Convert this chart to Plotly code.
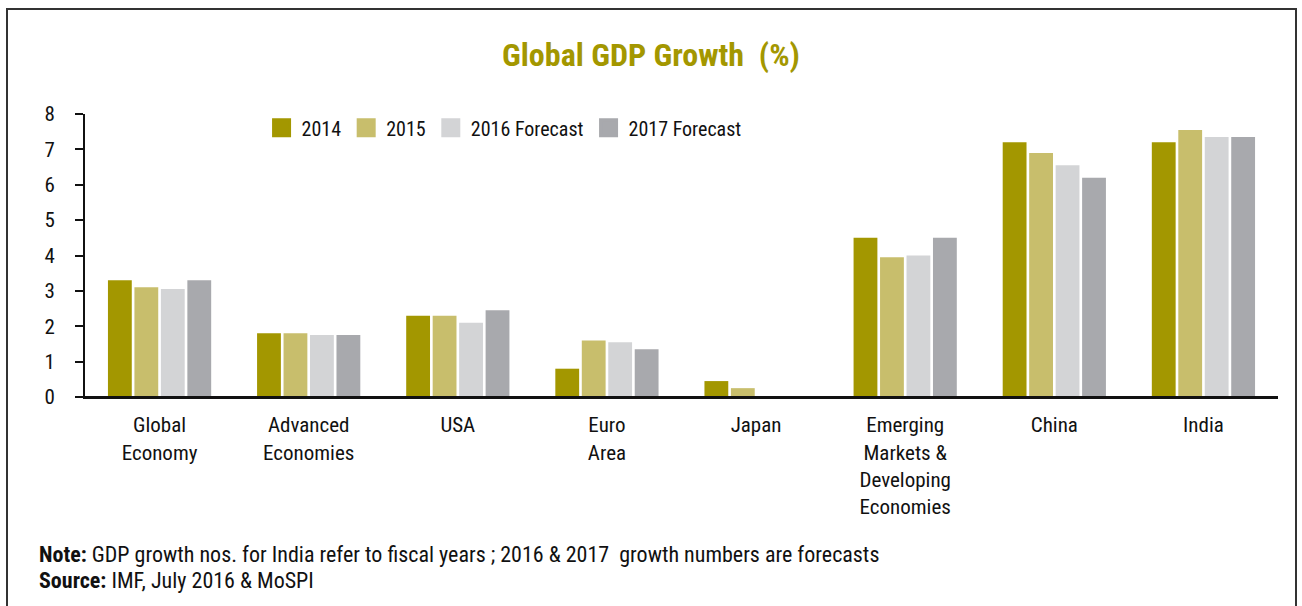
import plotly.graph_objects as go

# values
CATEGORIES = [
    "Global<br>Economy",
    "Advanced<br>Economies",
    "USA",
    "Euro<br>Area",
    "Japan",
    "Emerging<br>Markets &<br>Developing<br>Economies",
    "China",
    "India",
]
GDP_2014 = [3.3, 1.8, 2.3, 0.8, 0.45, 4.5, 7.2, 7.2]
GDP_2015 = [3.1, 1.8, 2.3, 1.6, 0.25, 3.95, 6.9, 7.55]
GDP_2016F = [3.05, 1.75, 2.1, 1.55, 0, 4.0, 6.55, 7.35]
GDP_2017F = [3.3, 1.75, 2.45, 1.35, 0, 4.5, 6.2, 7.35]
SERIES_NAMES = ["2014", "2015", "2016 Forecast", "2017 Forecast"]
Y_TICKS = [0, 1, 2, 3, 4, 5, 6, 7, 8]

COLORS = ["#A39700", "#C8BE6C", "#D3D4D6", "#A8A9AD"]
TITLE_COLOR = "#A39700"
TEXT = "#111111"
FONT = "Liberation Sans Narrow, Roboto Condensed, Arial Narrow, Roboto, sans-serif"

fig = go.Figure()

for name, values, color in zip(SERIES_NAMES, [GDP_2014, GDP_2015, GDP_2016F, GDP_2017F], COLORS):
    fig.add_trace(
        go.Bar(
            x=CATEGORIES,
            y=values,
            name=name,
            marker=dict(color=color, line_width=0),
            showlegend=False,
        )
    )

# bigger square legend swatches than plotly's bar symbol
for name, color in zip(SERIES_NAMES, COLORS):
    fig.add_trace(
        go.Scatter(
            x=[None],
            y=[None],
            mode="markers",
            name=name,
            marker=dict(symbol="square", size=16, color=color, line=dict(color=color, width=3)),
        )
    )

fig.update_layout(
    width=1302,
    height=606,
    barmode="group",
    bargap=0.29,
    bargroupgap=0.1,
    paper_bgcolor="white",
    plot_bgcolor="white",
    font=dict(family=FONT, size=21, color=TEXT),
    margin=dict(l=85, r=24, t=114, b=209),
    title=dict(
        text="<b>Global GDP Growth  (%)</b>",
        x=0.5,
        xanchor="center",
        y=1 - 55 / 606,
        yanchor="middle",
        font=dict(family=FONT, size=32, color=TITLE_COLOR),
    ),
    legend=dict(
        orientation="h",
        x=0.148,
        xanchor="left",
        y=1.02,
        yanchor="top",
        font=dict(family=FONT, size=20, color=TEXT),
        itemsizing="trace",
        bgcolor="rgba(0,0,0,0)",
    ),
    showlegend=True,
)

fig.update_xaxes(
    showline=True,
    linecolor=TEXT,
    linewidth=2,
    ticks="",
    showgrid=False,
    ticklabelstandoff=8,
    tickfont=dict(size=21),
)
fig.update_yaxes(
    range=[0, 8],
    tickvals=Y_TICKS,
    showline=True,
    linecolor=TEXT,
    linewidth=2,
    ticks="outside",
    ticklen=8,
    tickwidth=2,
    tickcolor=TEXT,
    showgrid=False,
    zeroline=False,
    ticklabelstandoff=16,
    tickfont=dict(size=21),
)

# x axis line runs out past the y axis to meet the tick marks
fig.add_shape(
    type="line", xref="paper", yref="y",
    x0=-8 / 1193, x1=1, y0=0, y1=0,
    line=dict(color=TEXT, width=2),
)

# outer frame
fig.add_shape(
    type="rect", xref="paper", yref="paper",
    x0=(7 - 85) / 1193, x1=(1296 - 85) / 1193,
    y0=(397 - 640) / 283, y1=(397 - 9) / 283,
    line=dict(color="#333333", width=2),
    fillcolor="rgba(0,0,0,0)",
    layer="below",
)

fig.add_annotation(
    text="<b>Note:</b> GDP growth nos. for India refer to fiscal years ; 2016 & 2017  growth numbers are forecasts",
    xref="paper", yref="paper",
    x=(37 - 85) / 1193, y=(397 - 554) / 283,
    xanchor="left", yanchor="middle",
    showarrow=False,
    font=dict(family=FONT, size=22, color=TEXT),
)
fig.add_annotation(
    text="<b>Source:</b> IMF, July 2016 & MoSPI",
    xref="paper", yref="paper",
    x=(37 - 85) / 1193, y=(397 - 580) / 283,
    xanchor="left", yanchor="middle",
    showarrow=False,
    font=dict(family=FONT, size=22, color=TEXT),
)

# drop the default 8px page margin so the figure sits at the window's corner
fig.write_html(
    "out.html",
    config={"displayModeBar": False},
    post_script="document.body.style.margin = '0';",
)
